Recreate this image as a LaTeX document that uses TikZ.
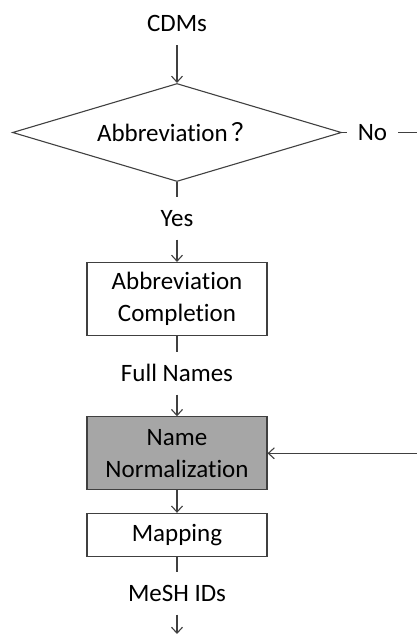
\documentclass[tikz,border=0pt]{standalone}
\usepackage{fontspec}
\setmainfont{Carlito}[Ligatures=NoCommon]
\newfontfamily\cjk{Noto Sans CJK SC}
\usetikzlibrary{shapes.geometric,arrows.meta}

\begin{document}
\begin{tikzpicture}[x=1pt,y=1pt,node distance=80pt,font=\fontsize{25}{31.6}\selectfont]
    \tikzstyle{decision} = [diamond, aspect=3.36, draw=black!75, line width=1.1pt, minimum width=329pt, minimum height=98pt, inner sep=0pt]
    \tikzstyle{process} = [rectangle, draw=black!75, line width=1.1pt, text width=170pt, align=center, minimum width=180pt, minimum height=73pt, inner sep=0pt]
    \tikzstyle{flowtext} = [text height=15pt, text depth=0pt, inner xsep=2pt, inner ysep=13.5pt]
    \tikzstyle{link} = [draw=black!75, line width=1.1pt]
    \tikzstyle{arrow} = [link, -{Straight Barb[length=6pt,width=11pt]}]

    \useasboundingbox (0,0) rectangle (417,-634);

    \node[flowtext] (cdms) at (177,-24.2) {CDMs};
    \node[decision, below of=cdms, node distance=108.3pt] (abbr) {Abbreviation\,\cjk{？}};
    \node[flowtext, right of=abbr, node distance=195.5pt, inner xsep=11pt] (no) {No};
    \node[flowtext, below of=abbr, node distance=86pt] (yes) {Yes};
    \node[process, below of=yes, node distance=80.5pt] (completion) {Abbreviation\\Completion};
    \node[flowtext, below of=completion, node distance=74.5pt] (fullnames) {Full Names};
    \node[process, fill=black!35, below of=fullnames, node distance=79.8pt] (normalization) {Name\\Normalization};
    \node[process, minimum height=42.7pt, below of=normalization, node distance=81.4pt] (mapping) {Mapping};
    \node[flowtext, below of=mapping, node distance=58.8pt] (meshids) {MeSH IDs};

    \coordinate (noend) at (417,-132.5);
    \coordinate (loopend) at (417,-453.3);
    \coordinate (outend) at (177,-634);

    \draw[arrow] (cdms) -- (abbr);
    \draw[link] (abbr) -- (yes);
    \draw[arrow] (yes) -- (completion);
    \draw[link] (completion) -- (fullnames);
    \draw[arrow] (fullnames) -- (normalization);
    \draw[arrow] (normalization) -- (mapping);
    \draw[link] (mapping) -- (meshids);
    \draw[arrow] (meshids) -- (outend);
    \draw[link] (abbr) -- (no);
    \draw[link] (no) -- (noend);
    \draw[arrow] (loopend) -- (normalization);
\end{tikzpicture}
\end{document}
